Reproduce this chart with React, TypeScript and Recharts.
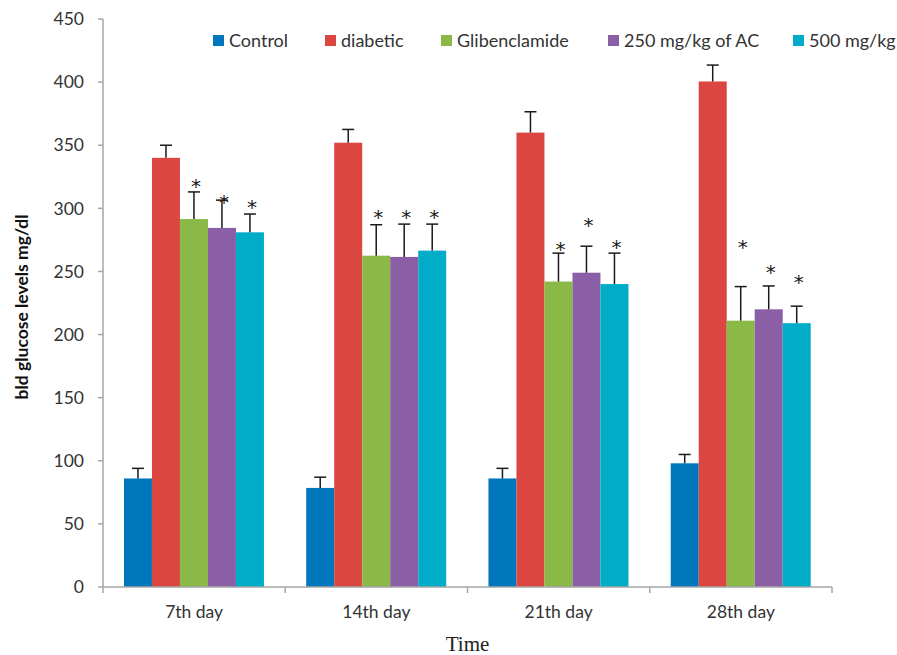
import { BarChart, Bar, XAxis, YAxis, Legend } from "recharts";

const categories = ["7th day", "14th day", "21th day", "28th day"];

const control = [86, 78.5, 86, 98];
const controlErr = [8, 8.5, 8, 7];
const diabetic = [340, 352, 360, 400.5];
const diabeticErr = [10, 10.5, 16.5, 13];
const glib = [291.5, 262.5, 242, 211];
const glibErr = [21.5, 24.5, 22.5, 27];
const ac250 = [284.5, 261.5, 249, 220];
const ac250Err = [22, 26, 21, 18.5];
const mg500 = [281, 266.5, 240, 209];
const mg500Err = [14.5, 21, 24.5, 13.5];

// where the significance asterisks sit (value units)
const glibStar = [321, 296, 271, 272.5];
const ac250Star = [308, 296, 290, 252.5];
const mg500Star = [304, 296, 272.5, 244.5];

const yTicks = [0, 50, 100, 150, 200, 250, 300, 350, 400, 450];

const series = [
  { key: "control", name: "Control", color: "#0077BD", err: "controlErr" },
  { key: "diabetic", name: "diabetic", color: "#DC4641", err: "diabeticErr" },
  { key: "glib", name: "Glibenclamide", color: "#8BB948", err: "glibErr", star: "glibStar" },
  { key: "ac250", name: "250 mg/kg of AC", color: "#8A5FA5", err: "ac250Err", star: "ac250Star" },
  { key: "mg500", name: "500 mg/kg", color: "#00ACC7", err: "mg500Err", star: "mg500Star" },
];

// legend item offsets (px from the legend's left edge)
const legendOffsets = [0, 112, 228, 395, 580];

const data = categories.map((day, i) => ({
  day,
  control: control[i],
  controlErr: controlErr[i],
  diabetic: diabetic[i],
  diabeticErr: diabeticErr[i],
  glib: glib[i],
  glibErr: glibErr[i],
  glibStar: glibStar[i],
  ac250: ac250[i],
  ac250Err: ac250Err[i],
  ac250Star: ac250Star[i],
  mg500: mg500[i],
  mg500Err: mg500Err[i],
  mg500Star: mg500Star[i],
}));

const FONT = "Lato, 'Open Sans', sans-serif";
const AXIS = "#A6A6A6";
const TEXT = "#333";

// bar with an upper-only error bar and optional asterisk
const makeShape = (key: string, errKey: string, starKey?: string) => (props: any) => {
  const { x, y, width, height, fill, payload } = props;
  const ppu = height / payload[key];
  const cx = x + width / 2;
  const errTop = y - payload[errKey] * ppu;
  const base = y + height;
  return (
    <g>
      <rect x={x} y={y} width={width} height={height} fill={fill} />
      <line x1={cx} x2={cx} y1={y} y2={errTop} stroke="#1a1a1a" strokeWidth={1.5} />
      <line x1={cx - 6} x2={cx + 6} y1={errTop} y2={errTop} stroke="#1a1a1a" strokeWidth={1.5} />
      {starKey && (
        <text
          x={cx + 2}
          y={base - payload[starKey] * ppu + 11}
          textAnchor="middle"
          fontSize={20}
          fontFamily="'DejaVu Sans', sans-serif"
          fill="#1a1a1a"
        >
          *
        </text>
      )}
    </g>
  );
};

const DayTick = (props: any) => {
  const { x, y, payload, index, visibleTicksCount, width } = props;
  const half = payload.offset || width / visibleTicksCount / 2;
  return (
    <g>
      <line x1={x - half} x2={x - half} y1={y} y2={y + 6} stroke={AXIS} strokeWidth={1.5} />
      {index === visibleTicksCount - 1 && (
        <line x1={x + half} x2={x + half} y1={y} y2={y + 6} stroke={AXIS} strokeWidth={1.5} />
      )}
      <text x={x} y={y + 31} textAnchor="middle" fontSize={17.5} fontFamily={FONT} fill={TEXT}>
        {payload.value}
      </text>
    </g>
  );
};

const LegendBox = () => (
  <div style={{ position: "relative", height: 22, fontFamily: FONT, fontSize: 18, color: TEXT, whiteSpace: "nowrap" }}>
    {series.map((s, i) => (
      <div
        key={s.key}
        style={{ position: "absolute", left: legendOffsets[i], top: 0, display: "flex", alignItems: "center", gap: 5 }}
      >
        <span style={{ width: 11, height: 11, background: s.color, display: "inline-block" }} />
        <span>{s.name}</span>
      </div>
    ))}
  </div>
);

export default function App() {
  return (
    <div style={{ position: "absolute", left: 0, top: 0, background: "#fff" }}>
      <BarChart
        width={897}
        height={655}
        data={data}
        margin={{ top: 19, right: 65, bottom: 28, left: 0 }}
        barCategoryGap="11.5%"
        barGap={0}
      >
        <XAxis
          dataKey="day"
          height={40}
          tickLine={false}
          tickSize={0}
          tickMargin={0}
          axisLine={{ stroke: AXIS, strokeWidth: 1.5 }}
          tick={<DayTick />}
          interval={0}
          label={({ viewBox }: any) => (
            <text
              x={viewBox.x + viewBox.width / 2}
              y={651}
              textAnchor="middle"
              fontSize={21}
              fontFamily="'Liberation Serif', serif"
              fill="#222"
            >
              Time
            </text>
          )}
        />
        <YAxis
          width={103}
          domain={[0, 450]}
          ticks={yTicks}
          interval={0}
          tickSize={5}
          tickMargin={14}
          axisLine={{ stroke: AXIS, strokeWidth: 1.5 }}
          tickLine={{ stroke: AXIS, strokeWidth: 1.5 }}
          tick={{ fontSize: 17.5, fontFamily: FONT, fill: TEXT }}
          label={({ viewBox }: any) => (
            <text
              transform={`translate(28, ${viewBox.y + viewBox.height / 2 + 4}) rotate(-90)`}
              textAnchor="middle"
              fontSize={17.5}
              fontWeight="bold"
              fontFamily={FONT}
              fill="#111"
            >
              bld glucose levels mg/dl
            </text>
          )}
        />
        <Legend
          verticalAlign="middle"
          align="center"
          content={<LegendBox />}
          wrapperStyle={{ top: 29, left: 213, width: 680 }}
        />
        {series.map((s) => (
          <Bar
            key={s.key}
            dataKey={s.key}
            name={s.name}
            fill={s.color}
            isAnimationActive={false}
            shape={makeShape(s.key, s.err, s.star)}
          />
        ))}
      </BarChart>
    </div>
  );
}
